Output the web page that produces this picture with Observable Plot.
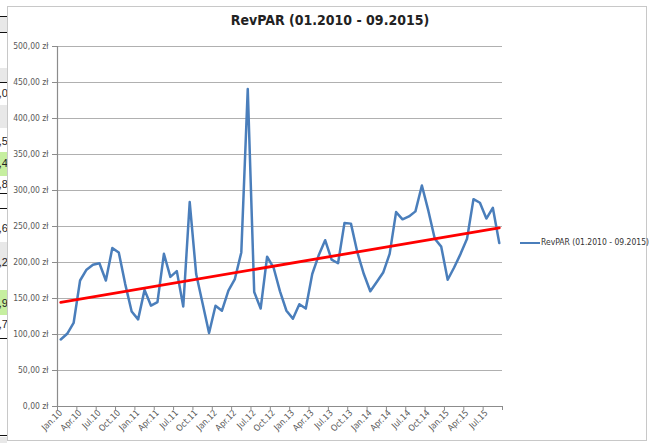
<!DOCTYPE html>
<html>
<head>
<meta charset="utf-8">
<script src="https://cdn.jsdelivr.net/npm/d3@7"></script>
<script src="https://cdn.jsdelivr.net/npm/@observablehq/plot@0.6"></script>
<style>
  html, body { margin: 0; padding: 0; background: #fff; }
  #wrap { position: relative; width: 656px; height: 443px; overflow: hidden; background: #fff;
          font-family: "Liberation Sans Narrow", "DejaVu Sans Condensed", "Liberation Sans", sans-serif; }
  #frame { position: absolute; left: 7px; top: 6px; width: 640px; height: 435px; border: 1px solid #c8c8c8; box-sizing: border-box; }
  #title { position: absolute; left: 7px; width: 646px; top: 12px; text-align: center; font-weight: bold; font-size: 14px; color: #222; }
  #legend { position: absolute; left: 520px; top: 237px; font-size: 8.5px; color: #333; white-space: nowrap; }
  #legend .sw { display: inline-block; width: 20px; height: 0; border-top: 2.5px solid #4a7ebb; vertical-align: middle; margin-right: 1px; }
  #chart { position: absolute; left: 0; top: 0; }
  #strip { position: absolute; left: 0; top: 0; width: 7px; height: 443px; overflow: hidden; }
  .strip { position: absolute; left: 0; width: 7px; }
  .cell { position: absolute; left: -6px; width: 14px; font-size: 11px; font-family: "Liberation Sans", sans-serif; text-align: right; color: #222; }
  .hl { position: absolute; left: 0; width: 7px; height: 0; border-top: 1.5px solid #111; }
</style>
</head>
<body>
<div id="wrap">
  <div id="strip"></div>
  <div id="frame"></div>
  <div id="chart"></div>
  <div id="title">RevPAR (01.2010 - 09.2015)</div>
  <div id="legend"><span class="sw"></span>RevPAR (01.2010 - 09.2015)</div>
</div>
<script>
// Monthly RevPAR values, Jan.2010 .. Sep.2015 (zł)
const revpar = [
  93, 101, 116, 175, 190, 197, 199, 175, 220, 214, 170, 132,
  121, 162, 140, 145, 212, 180, 188, 139, 284, 184, 143, 102,
  140, 133, 161, 177, 214, 441, 159, 136, 208, 193, 160, 133,
  122, 142, 136, 184, 210, 231, 204, 199, 255, 254, 214, 184,
  160, 173, 186, 212, 270, 260, 264, 271, 307, 272, 233, 222,
  176, 193, 212, 233, 288, 283, 261, 276, 227
];
// Category tick labels (every 3rd month)
const tickLabels = [
  "Jan.10","Apr.10","Jul.10","Oct.10",
  "Jan.11","Apr.11","Jul.11","Oct.11",
  "Jan.12","Apr.12","Jul.12","Oct.12",
  "Jan.13","Apr.13","Jul.13","Oct.13",
  "Jan.14","Apr.14","Jul.14","Oct.14",
  "Jan.15","Apr.15","Jul.15"
];
const yTicks = [0, 50, 100, 150, 200, 250, 300, 350, 400, 450, 500];
const seriesName = "RevPAR (01.2010 - 09.2015)";

const data = revpar.map((v, i) => ({i, v}));
const labelPos = tickLabels.map((_, k) => k * 3);
const boundaries = d3.range(tickLabels.length + 1).map(k => k * 3 - 0.5);

const fmt = d => d.toFixed(2).replace(".", ",") + " zł";
const font = '"Liberation Sans Narrow", "DejaVu Sans Condensed", "Liberation Sans", sans-serif';

const chart = Plot.plot({
  width: 656,
  height: 443,
  marginLeft: 57,
  marginRight: 154,
  marginTop: 46,
  marginBottom: 37,
  style: {fontFamily: font, background: "transparent"},
  x: {domain: [-0.5, revpar.length - 0.5]},
  y: {domain: [0, 500]},
  marks: [
    Plot.ruleY(yTicks.filter(d => d > 0), {stroke: "#b0b0b0", strokeWidth: 1.2}),
    Plot.ruleY([0], {stroke: "#8c8c8c", strokeWidth: 1.2}),
    Plot.ruleX([-0.5], {stroke: "#8c8c8c", strokeWidth: 1.2}),
    Plot.axisY({ticks: yTicks, tickFormat: fmt, tickSize: 5, tickPadding: 4, stroke: "#8c8c8c",
                fill: "#595959", fontSize: 8.5, label: null}),
    Plot.axisX({ticks: boundaries, tickSize: 4, tickFormat: () => "", stroke: "#8c8c8c", label: null}),
    Plot.axisX({ticks: labelPos, tickSize: 0, tickPadding: 5, tickRotate: -45,
                tickFormat: d => tickLabels[d / 3], fill: "#595959", fontSize: 8.8, label: null}),
    Plot.line(data, {x: "i", y: "v", stroke: "#4a7ebb", strokeWidth: 2.5, strokeLinejoin: "round"}),
    Plot.linearRegressionY(data, {x: "i", y: "v", stroke: "#ff0000", strokeWidth: 2.8, ci: 0})
  ]
});
document.getElementById("chart").appendChild(chart);

// spreadsheet fragment visible at the left edge
const strip = document.getElementById("strip");
const fills = [[16, 32, "#e8e8e8"], [68, 82, "#e8e8e8"], [105, 128, "#e8e8e8"], [152, 176, "#c6efa0"],
               [242, 267, "#e8e8e8"], [290, 315, "#c6efa0"], [437, 443, "#e8e8e8"]];
fills.forEach(([a, b, c]) => {
  const d = document.createElement("div");
  d.className = "strip"; d.style.top = a + "px"; d.style.height = (b - a) + "px"; d.style.background = c;
  strip.appendChild(d);
});
[16, 32, 82, 193, 208, 338, 435].forEach(y => {
  const d = document.createElement("div"); d.className = "hl"; d.style.top = y + "px"; strip.appendChild(d);
});
[[",0", 87], [",5", 135], [",4", 157], [",8", 178], [",6", 222], [",2", 256], [",9", 297], [",7", 318]].forEach(([t, y]) => {
  const d = document.createElement("div"); d.className = "cell"; d.textContent = t; d.style.top = y + "px";
  strip.appendChild(d);
});
</script>
</body>
</html>
